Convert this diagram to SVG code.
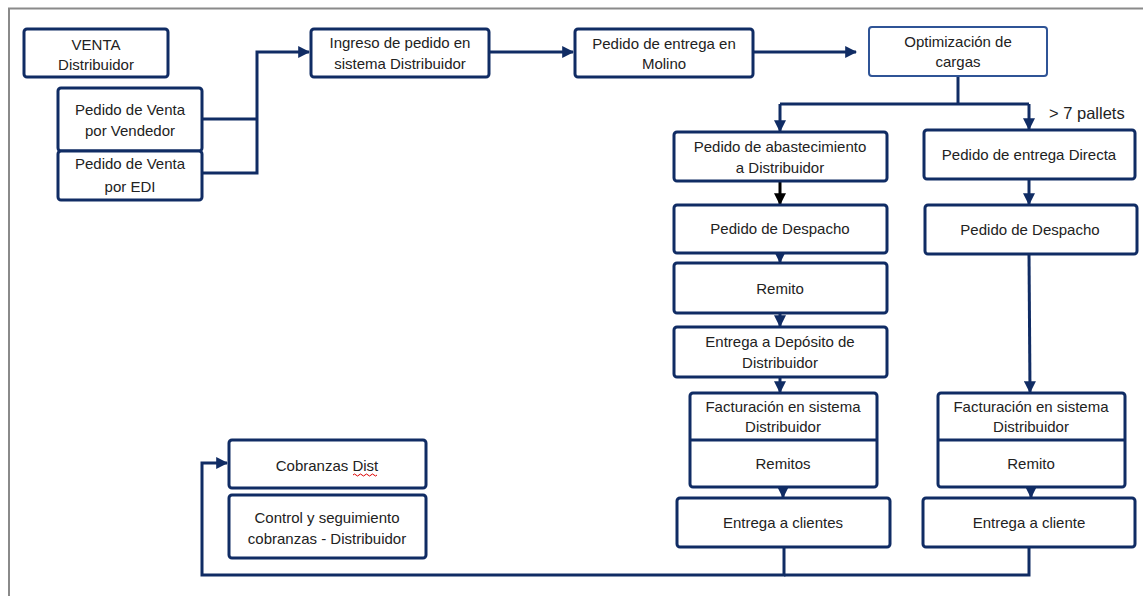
<svg xmlns="http://www.w3.org/2000/svg" width="1143" height="596" viewBox="0 0 1143 596">
<style>
.box{fill:#fff;stroke:#102C64;stroke-width:3;}
.box2{fill:#fff;stroke:#2F5496;stroke-width:2;}
.t{font-family:"Liberation Sans",Arial,sans-serif;font-size:15px;fill:#222;text-anchor:middle;dominant-baseline:central;}
.c{fill:none;stroke:#102C64;stroke-width:3;}
.k{fill:none;stroke:#000;stroke-width:3;}
</style>
<defs>
<marker id="a" viewBox="0 0 10 10" refX="9" refY="5" markerWidth="4" markerHeight="4" orient="auto" markerUnits="strokeWidth"><path d="M0,0 L10,5 L0,10 Z" fill="#102C64"/></marker>
<marker id="ak" viewBox="0 0 10 10" refX="9" refY="5" markerWidth="4" markerHeight="4" orient="auto" markerUnits="strokeWidth"><path d="M0,0 L10,5 L0,10 Z" fill="#000"/></marker>
</defs>
<rect width="1143" height="596" fill="#fff"/>
<path d="M9,596 V8.5 H1143" fill="none" stroke="#8a8a8a" stroke-width="2"/>

<g id="connectors">
<path class="c" d="M202,119 H257"/>
<path class="c" d="M202,173 H257 V52 H309" marker-end="url(#a)"/>
<path class="c" d="M489,52 H573" marker-end="url(#a)"/>
<path class="c" d="M753,52 H856" marker-end="url(#a)"/>
<path class="c" d="M958,76 V104"/>
<path class="c" d="M780,104 H1029"/>
<path class="c" d="M780,104 V131" marker-end="url(#a)"/>
<path class="c" d="M1029,104 V129" marker-end="url(#a)"/>
<path class="k" d="M780,181 V204" marker-end="url(#ak)"/>
<path class="c" d="M1029,179 V204" marker-end="url(#a)"/>
<path class="c" d="M780,253 V262" marker-end="url(#a)"/>
<path class="c" d="M780,313 V326" marker-end="url(#a)"/>
<path class="c" d="M780,377 V392" marker-end="url(#a)"/>
<path class="c" d="M1029,254 L1030,392" marker-end="url(#a)"/>
<path class="c" d="M783,487 V497" marker-end="url(#a)"/>
<path class="c" d="M1031,487 V497" marker-end="url(#a)"/>
<path class="c" d="M1029,547 V575 H784"/>
<path class="c" d="M784,547 V575 H202 V463 H227" marker-end="url(#a)"/>
</g>

<g id="venta"><rect class="box" x="24" y="29" width="144" height="48" rx="3"/>
<text class="t" x="96" y="44">VENTA</text><text class="t" x="96" y="64">Distribuidor</text></g>

<g id="pv-vendedor"><rect class="box" x="58" y="88" width="144" height="63" rx="3"/>
<text class="t" x="130" y="109">Pedido de Venta</text><text class="t" x="130" y="130">por Vendedor</text></g>

<g id="pv-edi"><rect class="box" x="58" y="151" width="144" height="49" rx="3"/>
<text class="t" x="130" y="163">Pedido de Venta</text><text class="t" x="130" y="186">por EDI</text></g>

<g id="ingreso"><rect class="box" x="311" y="29" width="178" height="48" rx="3"/>
<text class="t" x="400" y="42">Ingreso de pedido en</text><text class="t" x="400" y="63">sistema Distribuidor</text></g>

<g id="pedido-molino"><rect class="box" x="575" y="29" width="178" height="48" rx="3"/>
<text class="t" x="664" y="43">Pedido de entrega en</text><text class="t" x="664" y="63">Molino</text></g>

<g id="optimizacion"><rect class="box2" x="869" y="27" width="178" height="49" rx="3"/>
<text class="t" x="958" y="41">Optimización de</text><text class="t" x="958" y="61">cargas</text></g>

<text x="1049" y="113" style="font-family:'Liberation Sans',Arial,sans-serif;font-size:16.5px;fill:#222;dominant-baseline:central;">&gt; 7 pallets</text>

<g id="abastecimiento"><rect class="box" x="674" y="132" width="213" height="49" rx="3"/>
<text class="t" x="780" y="146">Pedido de abastecimiento</text><text class="t" x="780" y="167">a Distribuidor</text></g>

<g id="directa"><rect class="box" x="924" y="130" width="211" height="49" rx="3"/>
<text class="t" x="1029" y="154">Pedido de entrega Directa</text></g>

<g id="despacho-1"><rect class="box" x="674" y="205" width="213" height="48" rx="3"/>
<text class="t" x="780" y="228">Pedido de Despacho</text></g>

<g id="despacho-2"><rect class="box" x="925" y="205" width="212" height="49" rx="3"/>
<text class="t" x="1030" y="229">Pedido de Despacho</text></g>

<g id="remito-1"><rect class="box" x="674" y="263" width="213" height="50" rx="3"/>
<text class="t" x="780" y="288">Remito</text></g>

<g id="deposito"><rect class="box" x="674" y="327" width="213" height="50" rx="3"/>
<text class="t" x="780" y="341">Entrega a Depósito de</text><text class="t" x="780" y="362">Distribuidor</text></g>

<g id="facturacion-1"><rect class="box" x="690" y="393" width="187" height="94" rx="3"/>
<line x1="690" y1="440" x2="877" y2="440" stroke="#102C64" stroke-width="3"/>
<text class="t" x="783" y="406">Facturación en sistema</text><text class="t" x="783" y="426">Distribuidor</text>
<text class="t" x="783" y="463">Remitos</text></g>

<g id="facturacion-2"><rect class="box" x="938" y="393" width="187" height="94" rx="3"/>
<line x1="938" y1="440" x2="1125" y2="440" stroke="#102C64" stroke-width="3"/>
<text class="t" x="1031" y="406">Facturación en sistema</text><text class="t" x="1031" y="426">Distribuidor</text>
<text class="t" x="1031" y="463">Remito</text></g>

<g id="entrega-clientes"><rect class="box" x="677" y="498" width="213" height="49" rx="3"/>
<text class="t" x="783" y="522">Entrega a clientes</text></g>

<g id="entrega-cliente"><rect class="box" x="923" y="498" width="212" height="49" rx="3"/>
<text class="t" x="1029" y="522">Entrega a cliente</text></g>

<g id="cobranzas"><rect class="box" x="229" y="440" width="197" height="48" rx="3"/>
<text class="t" x="327" y="465">Cobranzas Dist</text>
<path d="M353,475 q1.5,-2 3,0 t3,0 t3,0 t3,0 t3,0 t3,0 t3,0 t3,0" fill="none" stroke="#d00" stroke-width="1"/></g>

<g id="control"><rect class="box" x="229" y="495" width="197" height="63" rx="3"/>
<text class="t" x="327" y="517">Control y seguimiento</text><text class="t" x="327" y="538">cobranzas - Distribuidor</text></g>
</svg>
